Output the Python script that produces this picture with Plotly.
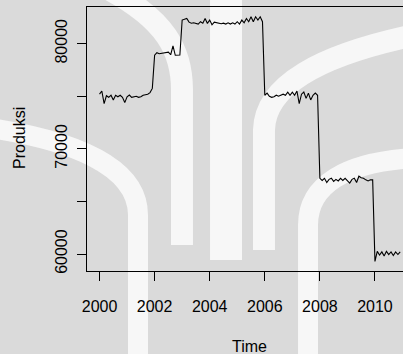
import plotly.graph_objects as go

# Monthly series, Jan 2000 .. Dec 2010
start_year = 2000
produksi = [
    # 2000
    75200, 75500, 74300, 75050, 74900, 75100, 74650, 75100, 74950, 75100, 74900, 74400,
    # 2001
    74950, 75120, 74900, 74950, 75000, 74900, 74950, 75100, 75150, 75200, 75350, 75750,
    # 2002
    78900, 79150, 79050, 79100, 79100, 79150, 79200, 78950, 79800, 78900, 78920, 78920,
    # 2003
    82250, 82300, 82400, 82050, 81950, 81990, 81900, 81870, 82090, 81950, 82400, 81930,
    # 2004
    82250, 81800, 82050, 82000, 81950, 81900, 81950, 81870, 81990, 81870, 81990, 81870,
    # 2005
    82090, 81870, 82250, 81990, 82400, 82090, 82560, 82090, 82560, 82250, 82560, 82090,
    # 2006
    75100, 75300, 75000, 74900, 74950, 75100, 75000, 75100, 75200, 75100, 75400, 75100,
    # 2007
    75400, 75100, 75500, 74300, 75200, 75400, 74800, 75300, 74650, 75100, 75300, 75100,
    # 2008
    67200, 67000, 67200, 66800, 67100, 67200, 66900, 67100, 66950, 67200, 67000, 67200,
    # 2009
    66950, 66750, 67100, 67200, 66800, 67400, 67250, 67200, 67050, 66950, 67050, 67050,
    # 2010
    59300, 60250, 59900, 60200, 59800, 60250, 59950, 60200, 59850, 60200, 59950, 60200,
]
time = [start_year + i / 12 for i in range(len(produksi))]

x_tickvals = [2000, 2002, 2004, 2006, 2008, 2010]
x_ticktext = ["2000", "2002", "2004", "2006", "2008", "2010"]
y_tickvals = [60000, 65000, 70000, 75000, 80000]
y_ticktext = ["60000", "", "70000", "", "80000"]

FONT = "Liberation Sans, Arial, Helvetica, sans-serif"

# plot-area geometry in pixels (for the faint background watermark)
L, T, B, W, H = 87, 7, 271, 316, 264


def px(x, y):
    return f"{(x - L) / W:.4f},{(B - y) / H:.4f}"


def band(points, width):
    p0, c1, c2, p1 = points[0], points[1], points[2], points[3]
    d = f"M {px(*p0)} C {px(*c1)} {px(*c2)} {px(*p1)}"
    for extra in points[4:]:
        d += f" L {px(*extra)}"
    return dict(type="path", path=d, xref="paper", yref="paper", layer="below",
                line=dict(color="rgba(250,250,250,0.9)", width=width))


watermark = [
    band([(110, -10), (165, 20), (182, 50), (182, 90), (182, 245)], 22),
    band([(226, -10), (226, 60), (226, 150), (226, 200), (226, 260)], 32),
    band([(415, 35), (320, 55), (265, 85), (264, 130), (264, 250)], 22),
    band([(-10, 128), (70, 140), (138, 165), (138, 215), (138, 360)], 20),
    band([(415, 158), (345, 162), (308, 185), (308, 225), (308, 360)], 20),
]

fig = go.Figure()
fig.add_trace(go.Scatter(x=time, y=produksi, mode="lines",
                         line=dict(color="black", width=1.1),
                         hoverinfo="skip", showlegend=False))

fig.update_layout(
    width=403, height=354,
    margin=dict(l=87, r=0, t=7, b=83),
    paper_bgcolor="#dadada",
    plot_bgcolor="rgba(0,0,0,0)",
    font=dict(family=FONT, size=16, color="black"),
    showlegend=False,
    shapes=watermark,
)
fig.update_xaxes(
    range=[1999.545, 2011.018],
    tickvals=x_tickvals, ticktext=x_ticktext,
    ticks="outside", ticklen=9, tickwidth=1, tickcolor="black",
    showline=True, linecolor="black", linewidth=1, mirror=True,
    showgrid=False, zeroline=False,
    ticklabelstandoff=12,
)
fig.update_yaxes(
    range=[58383, 83490],
    tickvals=y_tickvals, ticktext=y_ticktext,
    tickangle=-90,
    ticks="outside", ticklen=9, tickwidth=1, tickcolor="black",
    showline=True, linecolor="black", linewidth=1, mirror=False,
    showgrid=False, zeroline=False,
    ticklabelstandoff=4,
)
fig.add_annotation(text="Time", xref="paper", yref="paper",
                   x=(249.5 - 87) / 316, y=-(346 - 271) / 264,
                   xanchor="center", yanchor="middle", showarrow=False,
                   font=dict(family=FONT, size=16))
fig.add_annotation(text="Produksi", xref="paper", yref="paper",
                   x=-(87 - 19) / 316, y=(271 - 138) / 264,
                   xanchor="center", yanchor="middle", textangle=-90,
                   showarrow=False, font=dict(family=FONT, size=16))

fig.write_html("out.html")
